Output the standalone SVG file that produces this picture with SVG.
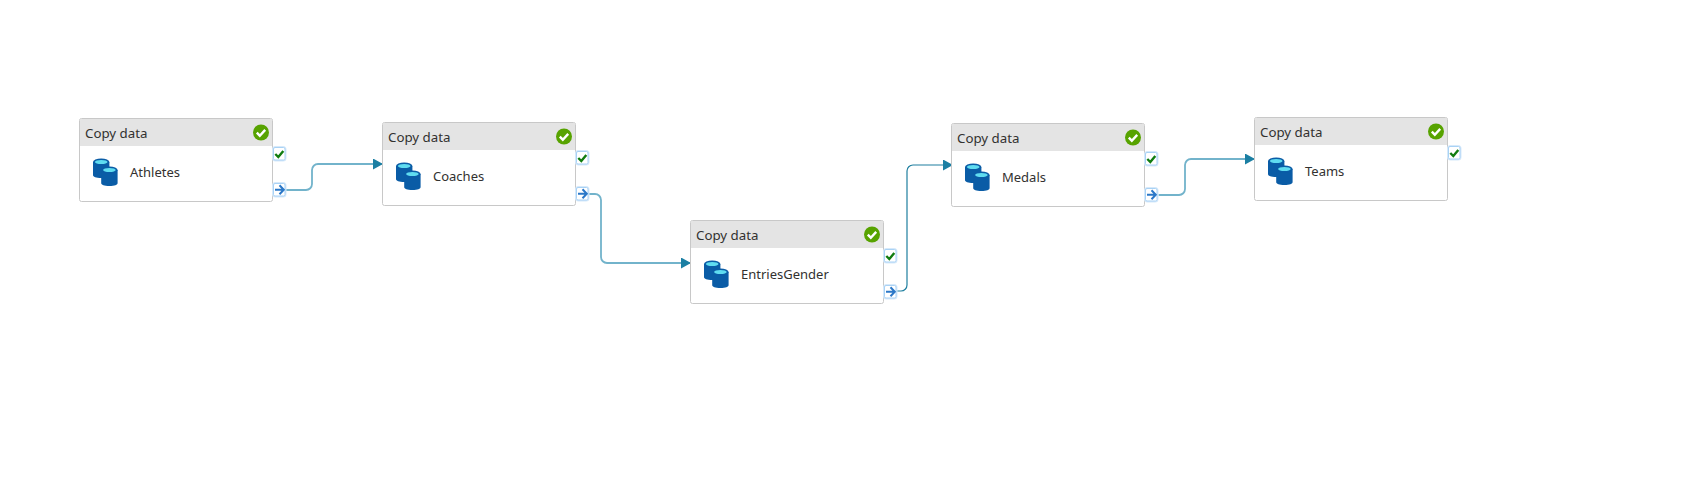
<svg xmlns="http://www.w3.org/2000/svg" xmlns:xlink="http://www.w3.org/1999/xlink" width="1693" height="492" viewBox="0 0 1693 492">
<style>
text{font-family:"Noto Sans","Open Sans","Liberation Sans",sans-serif;font-size:13px;fill:#323130}
.title{font-size:13.300px}
.box{fill:#fff;stroke:#c8c8c8;stroke-width:1}
.hd{fill:#e4e4e4}
.glow{fill:none;stroke:#d6e9fa;stroke-width:3}
.port{fill:#fff;stroke:#a9d2f5;stroke-width:1}
.tick{fill:none;stroke:#107c10;stroke-width:2.400}
.arr{fill:none;stroke:#2b78c8;stroke-width:2}
.conn{fill:none;stroke:#72b3cb;stroke-width:1.800}
.dark{stroke:#1f7f9f;stroke-width:1.200}
</style>
<defs>
<marker id="ah" markerUnits="userSpaceOnUse" markerWidth="11" markerHeight="11" refX="10" refY="5.500" orient="auto"><path d="M0 0L10 5.500L0 11Z" fill="#1b7fa3"/></marker>
<g id="cyl"><path d="M0 3.500V16.500c0 2 3 3 8.200 3s8.200-1 8.200-3V3.500z" fill="#0a5ca6"/><ellipse cx="8.200" cy="3.500" rx="8.200" ry="3.500" fill="#0a5ca6"/><ellipse cx="8.200" cy="3.500" rx="6.300" ry="2.100" fill="#5fdcf0"/></g>
<g id="card">
<rect class="box" x="0" y="0" width="193" height="83" rx="2"/>
<path class="hd" d="M.5 27.500V2a1.500 1.500 0 0 1 1.500-1.500H191a1.500 1.500 0 0 1 1.500 1.500V27.500z"/>
<circle cx="181.500" cy="14" r="8" fill="#57a300"/><path d="M177.300 14.200l3 3 5.400-5.800" fill="none" stroke="#fff" stroke-width="2.400"/>
<use xlink:href="#cyl" x="13.500" y="40"/><use xlink:href="#cyl" x="21.700" y="48"/>
</g>
<g id="ok"><rect class="glow" x="194" y="29" width="11.500" height="12.500" rx="2"/><rect class="port" x="194" y="29" width="11.500" height="12.500" rx="1.500"/><path class="tick" d="M195.800 35.500l3 3 5-6"/></g>
<g id="go"><rect class="glow" x="194" y="65" width="11.500" height="12.500" rx="2"/><rect class="port" x="194" y="65" width="11.500" height="12.500" rx="1.500"/><path class="arr" d="M195.500 71.300h8.500M200 66.800l4.300 4.500-4.300 4.500"/></g>
</defs>
<g id="connectors">
<path class="conn" marker-end="url(#ah)" d="M285.500 190H306a6 6 0 0 0 6-6V170a6 6 0 0 1 6-6H383"/>
<path class="conn" marker-end="url(#ah)" d="M588.500 194H595a6 6 0 0 1 6 6V257a6 6 0 0 0 6 6H691"/>
<path class="conn dark" marker-end="url(#ah)" d="M896.500 291H901a6 6 0 0 0 6-6V171a6 6 0 0 1 6-6H953"/>
<path class="conn" marker-end="url(#ah)" d="M1158.500 195H1179a6 6 0 0 0 6-6V165a6 6 0 0 1 6-6H1255"/>
</g>
<g id="node-athletes" transform="translate(79.500 118.500)"><use xlink:href="#card"/><use xlink:href="#ok"/><use xlink:href="#go"/><text class="title" x="5.500" y="19">Copy data</text><text x="50.500" y="58">Athletes</text></g>
<g id="node-coaches" transform="translate(382.500 122.500)"><use xlink:href="#card"/><use xlink:href="#ok"/><use xlink:href="#go"/><text class="title" x="5.500" y="19">Copy data</text><text x="50.500" y="58">Coaches</text></g>
<g id="node-entriesgender" transform="translate(690.500 220.500)"><use xlink:href="#card"/><use xlink:href="#ok"/><use xlink:href="#go"/><text class="title" x="5.500" y="19">Copy data</text><text x="50.500" y="58">EntriesGender</text></g>
<g id="node-medals" transform="translate(951.500 123.500)"><use xlink:href="#card"/><use xlink:href="#ok"/><use xlink:href="#go"/><text class="title" x="5.500" y="19">Copy data</text><text x="50.500" y="58">Medals</text></g>
<g id="node-teams" transform="translate(1254.500 117.500)"><use xlink:href="#card"/><use xlink:href="#ok"/><text class="title" x="5.500" y="19">Copy data</text><text x="50.500" y="58">Teams</text></g>
</svg>
